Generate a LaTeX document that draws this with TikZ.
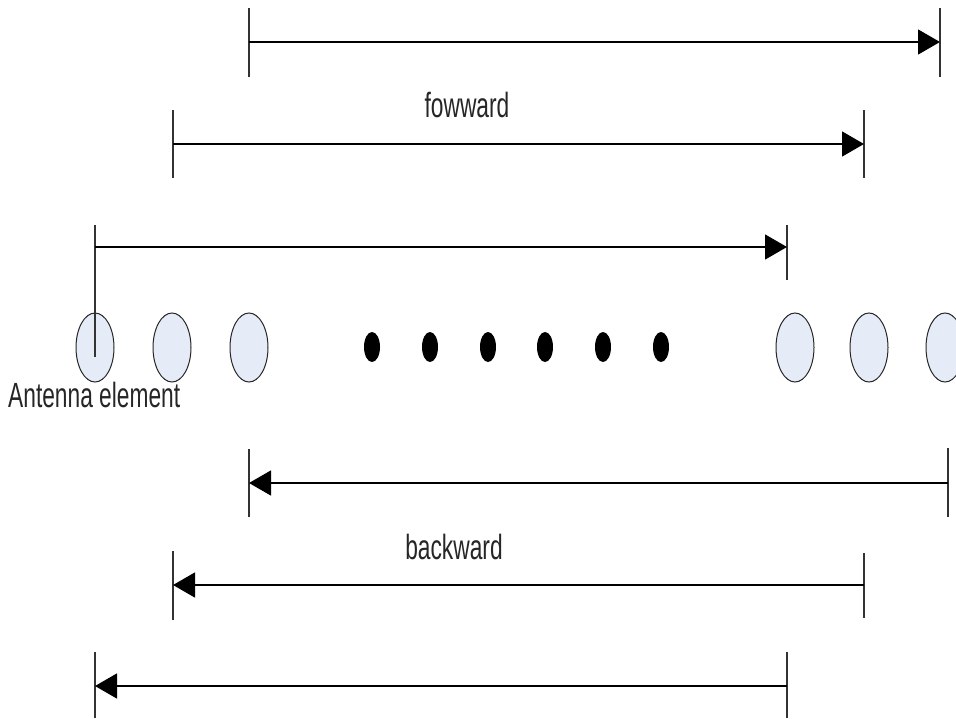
\documentclass[tikz,border=0pt]{standalone}
\usepackage{fontspec}
\setmainfont[FakeStretch=0.65]{Liberation Sans}
\usetikzlibrary{arrows.meta,shapes.geometric}
\definecolor{elemfill}{RGB}{230,236,247}
\tikzset{
  elem/.style={ellipse, draw=black!85, line width=1pt, fill=elemfill,
    minimum width=38pt, minimum height=69pt, inner sep=0pt},
  dotmark/.style={ellipse, fill=black, minimum width=16pt, minimum height=30pt, inner sep=0pt},
  tick/.style={draw=black!80, line width=1.3pt},
  ray/.style={draw=black, line width=1.4pt},
  fwd/.style={ray, -{Triangle[length=22pt,width=25pt]}},
  bwd/.style={ray, {Triangle[length=22pt,width=25pt]}-},
  lbl/.style={font=\fontsize{35}{40}\selectfont, text=black!85, inner sep=0pt}
}
\begin{document}
\begin{tikzpicture}[x=1pt,y=-1pt]
\useasboundingbox (0,0) rectangle (956,718);
\begin{scope}
\clip (0,0) rectangle (956,718);
% antenna elements
\node[elem] (e1) at (95,347.5) {};
\node[elem] (e2) at (172,347.5) {};
\node[elem] (e3) at (249,347.5) {};
\node[elem] (e4) at (795,347.5) {};
\node[elem] (e5) at (869,347.5) {};
\node[elem] (e6) at (945,347.5) {};
\end{scope}
% dots between element groups
\foreach \i/\x in {1/372,2/430,3/488,4/545,5/603,6/661}
  \node[dotmark] (d\i) at (\x,347) {};

% forward ranges
\coordinate (f1a) at (249,8);   \coordinate (f1b) at (249,77);
\coordinate (f1c) at (940,8);   \coordinate (f1d) at (940,77);
\coordinate (f1s) at (249,42);  \coordinate (f1e) at (940,42);
\coordinate (f2a) at (173,110); \coordinate (f2b) at (173,178);
\coordinate (f2c) at (864,110); \coordinate (f2d) at (864,178);
\coordinate (f2s) at (173,144); \coordinate (f2e) at (864,144);
\coordinate (f3a) at (95,225);  \coordinate (f3b) at (95,357);
\coordinate (f3c) at (787,225); \coordinate (f3d) at (787,280);
\coordinate (f3s) at (95,247);  \coordinate (f3e) at (787,247);
\foreach \k in {1,2,3} {
  \draw[tick] (f\k a) -- (f\k b);
  \draw[tick] (f\k c) -- (f\k d);
  \draw[fwd] (f\k s) -- (f\k e);
}

% backward ranges
\coordinate (b1a) at (249,449); \coordinate (b1b) at (249,517);
\coordinate (b1c) at (948,448); \coordinate (b1d) at (948,517);
\coordinate (b1s) at (249,483); \coordinate (b1e) at (948,483);
\coordinate (b2a) at (173,551); \coordinate (b2b) at (173,620);
\coordinate (b2c) at (864,553); \coordinate (b2d) at (864,618);
\coordinate (b2s) at (173,585); \coordinate (b2e) at (864,585);
\coordinate (b3a) at (95,652);  \coordinate (b3b) at (95,718);
\coordinate (b3c) at (787,652); \coordinate (b3d) at (787,718);
\coordinate (b3s) at (95,686);  \coordinate (b3e) at (787,686);
\foreach \k in {1,2,3} {
  \draw[tick] (b\k a) -- (b\k b);
  \draw[tick] (b\k c) -- (b\k d);
  \draw[bwd] (b\k s) -- (b\k e);
}

% labels
\node[lbl] (fw) at (467,105) {fowward};
\node[lbl] (bw) at (454,547) {backward};
\node[lbl, anchor=west] (ant) at (8,395) {Antenna element};
\end{tikzpicture}
\end{document}
